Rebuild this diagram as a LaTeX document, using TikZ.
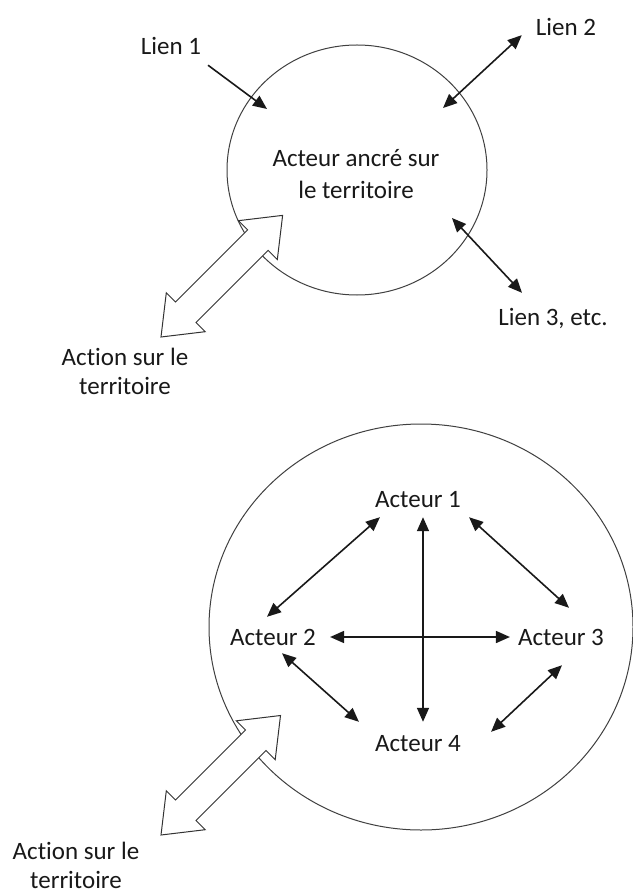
\documentclass[tikz,border=0pt]{standalone}
\usepackage{fontspec}
\setmainfont{Carlito}[Ligatures=CommonOff]
\usetikzlibrary{arrows.meta}

\tikzset{
  lbl/.style={font=\fontsize{25}{29}\selectfont, text=black!90, inner sep=0pt,
              text height=16pt, text depth=0pt},
  lbltwo/.style={font=\fontsize{25}{29}\selectfont, text=black!90, inner sep=0pt, align=center},
  zone/.style={draw=black!75, line width=1pt},
  tip/.style={Triangle[length=14pt,width=12pt]},
  link/.style={draw=black!90, line width=1.6pt, {Triangle[length=14pt,width=12pt]}-{Triangle[length=14pt,width=12pt]}},
  onelink/.style={draw=black!90, line width=1.6pt, -{Triangle[length=14pt,width=12pt]}},
  hollow/.style={draw=black!80, line width=1pt, fill=white, line join=miter},
  pics/bigarrow/.style={code={
    % hollow double-headed arrow lying along the local x axis, tail tip at the origin
    \path[hollow] (0,0) -- (35,27.5) -- (35,14.5) -- (#1-35,14.5) -- (#1-35,27.5)
      -- (#1,0) -- (#1-35,-27.5) -- (#1-35,-14.5) -- (35,-14.5) -- (35,-27.5) -- cycle;
  }}
}

\begin{document}
\begin{tikzpicture}[x=1pt,y=-1pt]
\path[use as bounding box, fill=white] (0,0) rectangle (632,890);

% ---------- one actor anchored in the territory ----------
\draw[zone] (357,170) ellipse [x radius=130pt, y radius=125pt];
\node[lbltwo] (actor) at (356,174) {Acteur ancré sur\\[3pt]le territoire};

\node[lbl] (l1) at (171,47) {Lien 1};
\node[lbl] (l2) at (566,28) {Lien 2};
\node[lbl] (l3) at (553,317) {Lien 3, etc.};

\coordinate (in1) at (267,109);
\coordinate (in2) at (443,108);
\coordinate (in3) at (452,218);

\draw[onelink] ([shift={(37,10)}]l1.south) -- (in1);
\draw[link] ([shift={(-14,-1)}]l2.south west) -- (in2);
\draw[link] ([shift={(-31,-16)}]l3.north) -- (in3);

\pic[rotate=45] at (161,337) {bigarrow=172};
\node[lbltwo] (act1) at (125,371) {Action sur le\\territoire};

% ---------- several actors linked together ----------
\draw[zone] (421,627) ellipse [x radius=212pt, y radius=203pt];

\node[lbl] (a1) at (418,499) {Acteur 1};
\node[lbl] (a2) at (273,637) {Acteur 2};
\node[lbl] (a3) at (561,637) {Acteur 3};
\node[lbl] (a4) at (418,743) {Acteur 4};

\draw[link] ([shift={(5,10)}]a1.south west) -- ([shift={(-6,-12)}]a2.north);
\draw[link] ([shift={(8,10)}]a1.south east) -- ([shift={(8,-21)}]a3.north);
\draw[link] ([shift={(5,10)}]a1.south) -- ([shift={(5,-13)}]a4.north);
\draw[link] ([shift={(14,0)}]a2.east) -- ([shift={(-8,0)}]a3.west);
\draw[link] ([shift={(9,8)}]a2.south) -- ([shift={(-16,-13)}]a4.north west);
\draw[link] ([shift={(1,20)}]a3.south) -- ([shift={(30,-3)}]a4.north east);

\pic[rotate=45] at (161,835) {bigarrow=169};
\node[lbltwo] (act2) at (76,865) {Action sur le\\territoire};
\end{tikzpicture}
\end{document}
